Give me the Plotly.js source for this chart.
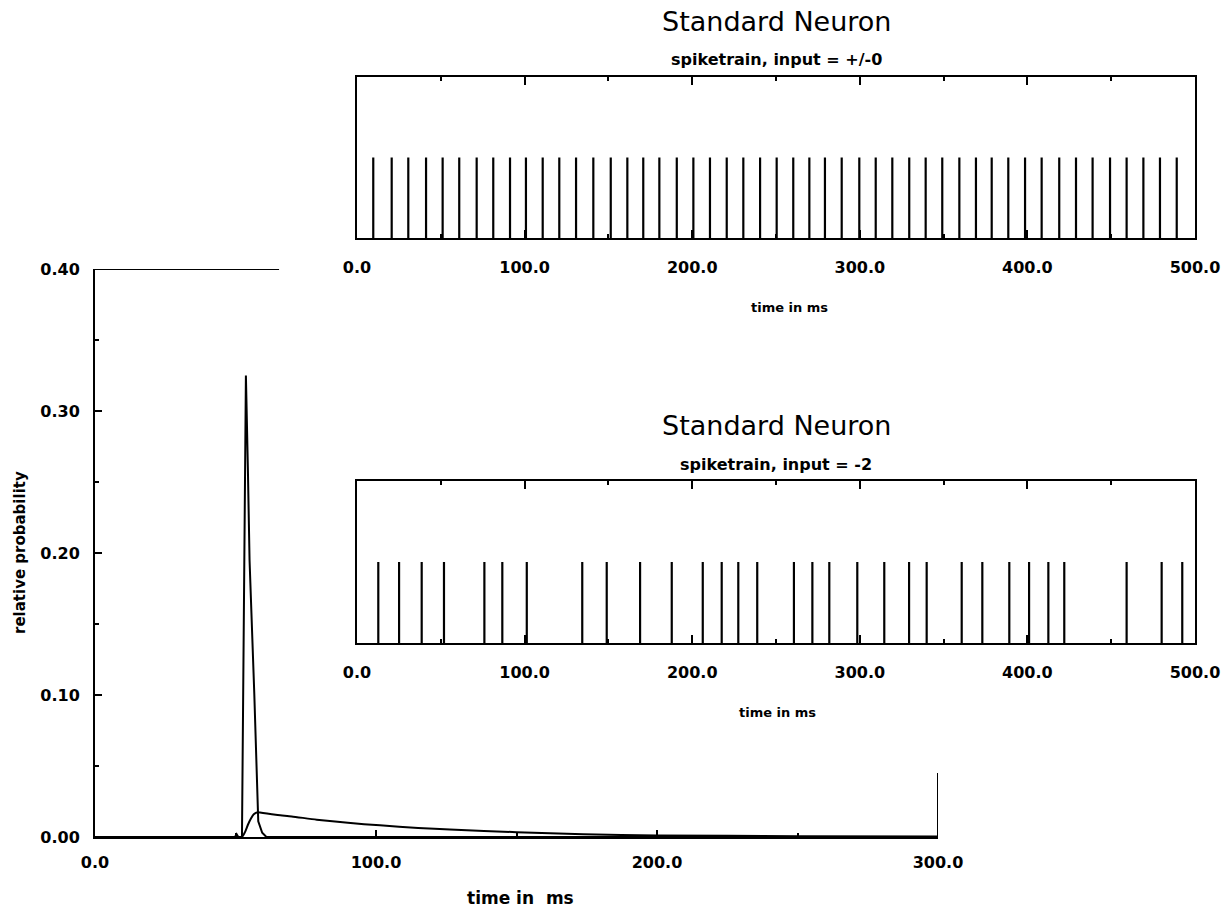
<!DOCTYPE html>
<html>
<head>
<meta charset="utf-8">
<script src="https://cdn.plot.ly/plotly-3.0.1.min.js"></script>
<style>html,body{margin:0;padding:0;background:#fff;}#chart{width:1230px;height:912px;}</style>
</head>
<body>
<div id="chart"></div>
<script>
// ---- Main plot: relative probability vs time (ms) ----
const sharpTime = [0, 49.8, 50.4, 51.0, 52.3, 53.0, 53.7, 54.4, 55.0, 56.7, 58.1, 59.5, 61.0, 80, 120, 200, 300];
const sharpProb = [0, 0, 0.002, 0, 0, 0.2, 0.325, 0.26, 0.195, 0.1, 0.011, 0.003, 0, 0, 0, 0, 0];

const broadTime = [0, 51.9, 52.5, 53.5, 54.5, 55.5, 56.5, 58.0, 58.7, 65, 70, 78.9, 90, 101.4, 115, 126.3, 150, 173.8, 200, 250, 300];
const broadProb = [0, 0, 0.0005, 0.004, 0.009, 0.013, 0.016, 0.0175, 0.0172, 0.0155, 0.0145, 0.0122, 0.0100, 0.0082, 0.0064, 0.0053, 0.0034, 0.0019, 0.0011, 0.0006, 0.0004];

const mainXTicks = [0, 100, 200, 300];
const mainYTicks = [0, 0.1, 0.2, 0.3, 0.4];

// ---- Spike trains (spike times in ms) ----
const spikesInput0 = [9.7, 20.7, 30.6, 41.2, 51.1, 61.0, 71.4, 81.3, 91.3, 100.8, 110.8, 120.7, 130.7, 141.0, 151.4, 161.3, 170.8, 180.4, 190.8, 200.7, 210.6, 220.6, 230.5, 240.5, 250.4, 260.3, 269.9, 279.2, 289.2, 299.7, 309.5, 319.4, 329.5, 339.3, 349.2, 359.4, 369.3, 378.7, 388.6, 398.6, 408.5, 419.0, 429.0, 438.9, 449.3, 459.2, 469.2, 479.1, 489.1];
const spikesInputMinus2 = [12.7, 25.1, 38.6, 51.9, 76.0, 86.7, 101.3, 134.4, 149.0, 168.9, 187.8, 206.3, 217.6, 227.5, 238.8, 260.7, 271.7, 281.8, 298.5, 314.6, 329.4, 339.9, 360.8, 373.1, 389.2, 401.0, 412.5, 422.0, 459.2, 480.1, 492.4];
const spikeHeight = 1;
const trainXTicks = [0, 100, 200, 300, 400, 500];

const titleText = "Standard Neuron";
const subtitleTop = "spiketrain, input = +/-0";
const subtitleBottom = "spiketrain, input = -2";

function spikeLines(times) {
  const x = [], y = [];
  times.forEach(t => { x.push(t, t, null); y.push(0, spikeHeight, null); });
  return {x, y};
}

const L = {l: 95, r: 35, t: 77, b: 75};
const W = 1230, H = 912;
const pw = W - L.l - L.r, ph = H - L.t - L.b;
const px = v => (v - L.l) / pw;          // page x -> paper x
const py = v => (H - L.b - v) / ph;      // page y -> paper y

const s1 = spikeLines(spikesInput0);
const s2 = spikeLines(spikesInputMinus2);

const traces = [
  {x: sharpTime, y: sharpProb, type: 'scatter', mode: 'lines', line: {color: '#000', width: 2}, xaxis: 'x', yaxis: 'y', hoverinfo: 'skip'},
  {x: broadTime, y: broadProb, type: 'scatter', mode: 'lines', line: {color: '#000', width: 2, shape: 'spline', smoothing: 0.6}, xaxis: 'x', yaxis: 'y', hoverinfo: 'skip'},
  {x: s1.x, y: s1.y, type: 'scatter', mode: 'lines', line: {color: '#000', width: 2.2}, xaxis: 'x2', yaxis: 'y2', connectgaps: false, hoverinfo: 'skip'},
  {x: s2.x, y: s2.y, type: 'scatter', mode: 'lines', line: {color: '#000', width: 2.2}, xaxis: 'x3', yaxis: 'y3', connectgaps: false, hoverinfo: 'skip'}
];

const tickFont = {family: 'DejaVu Sans', size: 16, color: '#000', weight: 'bold'};

const trainX = (anchor) => ({
  domain: [px(357), 1], anchor: anchor, range: [0, 500],
  showline: true, linecolor: '#000', linewidth: 2, mirror: 'allticks',
  showgrid: false, zeroline: false,
  tickmode: 'array', tickvals: trainXTicks, tickformat: '.1f',
  ticks: 'inside', ticklen: 8, tickwidth: 2, tickcolor: '#000',
  minor: {dtick: 50, ticks: 'inside', ticklen: 4, tickwidth: 2, tickcolor: '#000'},
  tickfont: tickFont, ticklabelstandoff: 14
});
const trainY = (anchor, dom) => ({
  domain: dom, anchor: anchor, range: [0, 2],
  showline: true, linecolor: '#000', linewidth: 2, mirror: true,
  showgrid: false, zeroline: false, showticklabels: false, ticks: ''
});

const layout = {
  width: W, height: H, margin: L,
  paper_bgcolor: '#fff', plot_bgcolor: 'rgba(0,0,0,0)',
  showlegend: false,
  font: {family: 'DejaVu Sans', color: '#000'},
  xaxis: {
    domain: [0, px(938)], anchor: 'y', range: [0, 300],
    showline: true, linecolor: '#000', linewidth: 2, mirror: false,
    showgrid: false, zeroline: false,
    tickmode: 'array', tickvals: mainXTicks, tickformat: '.1f',
    ticks: 'inside', ticklen: 7, tickwidth: 2, tickcolor: '#000',
    minor: {dtick: 50, ticks: 'inside', ticklen: 4, tickwidth: 2, tickcolor: '#000'},
    tickfont: tickFont, ticklabelstandoff: 10
  },
  yaxis: {
    domain: [0, py(269)], anchor: 'x', range: [0, 0.4],
    showline: true, linecolor: '#000', linewidth: 2, mirror: false,
    showgrid: false, zeroline: false,
    tickmode: 'array', tickvals: mainYTicks, tickformat: '.2f',
    ticks: 'inside', ticklen: 7, tickwidth: 2, tickcolor: '#000',
    minor: {dtick: 0.05, ticks: 'inside', ticklen: 4, tickwidth: 2, tickcolor: '#000'},
    tickfont: tickFont, ticklabelstandoff: 10
  },
  xaxis2: trainX('y2'),
  yaxis2: trainY('x2', [py(238), 1]),
  xaxis3: trainX('y3'),
  yaxis3: trainY('x3', [py(643), py(481)]),
  shapes: [
    {type: 'line', xref: 'x', yref: 'y', x0: 0, x1: 65.5, y0: 0.4, y1: 0.4, line: {color: '#000', width: 2}},
    {type: 'line', xref: 'x', yref: 'y', x0: 300, x1: 300, y0: 0, y1: 0.045, line: {color: '#000', width: 2}}
  ],
  annotations: [
    {text: titleText, xref: 'paper', yref: 'paper', x: px(776), y: py(22), showarrow: false, xanchor: 'center', yanchor: 'middle', font: {size: 27, family: 'DejaVu Sans'}},
    {text: subtitleTop, xref: 'paper', yref: 'paper', x: px(776), y: py(60), showarrow: false, xanchor: 'center', yanchor: 'middle', font: {size: 16, family: 'DejaVu Sans', weight: 'bold'}},
    {text: 'time in ms', xref: 'paper', yref: 'paper', x: px(789), y: py(307), showarrow: false, xanchor: 'center', yanchor: 'middle', font: {size: 13, family: 'DejaVu Sans', weight: 'bold'}},
    {text: titleText, xref: 'paper', yref: 'paper', x: px(776), y: py(425), showarrow: false, xanchor: 'center', yanchor: 'middle', font: {size: 27, family: 'DejaVu Sans'}},
    {text: subtitleBottom, xref: 'paper', yref: 'paper', x: px(776), y: py(464), showarrow: false, xanchor: 'center', yanchor: 'middle', font: {size: 16, family: 'DejaVu Sans', weight: 'bold'}},
    {text: 'time in ms', xref: 'paper', yref: 'paper', x: px(778), y: py(712), showarrow: false, xanchor: 'center', yanchor: 'middle', font: {size: 13, family: 'DejaVu Sans', weight: 'bold'}},
    {text: 'time in&nbsp; ms', xref: 'paper', yref: 'paper', x: px(520), y: py(898), showarrow: false, xanchor: 'center', yanchor: 'middle', font: {size: 17, family: 'DejaVu Sans', weight: 'bold'}},
    {text: 'relative probability', xref: 'paper', yref: 'paper', x: px(20), y: py(553), showarrow: false, xanchor: 'center', yanchor: 'middle', textangle: -90, font: {size: 15, family: 'DejaVu Sans', weight: 'bold'}}
  ]
};

Plotly.newPlot('chart', traces, layout, {staticPlot: true, displayModeBar: false});
</script>
</body>
</html>
